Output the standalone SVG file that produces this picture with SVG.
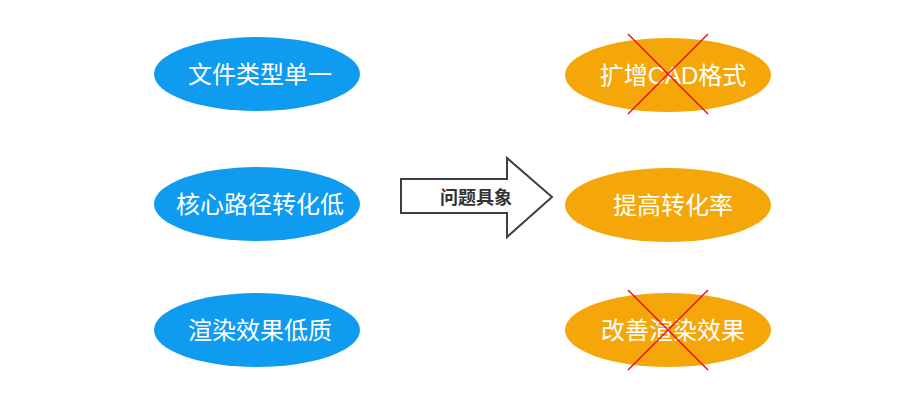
<svg xmlns="http://www.w3.org/2000/svg" width="900" height="403" viewBox="0 0 900 403">
<style>
.b{fill:#0f9bf0}.o{fill:#f5a70a}
.t{font-family:"Liberation Sans","Noto Sans CJK SC",sans-serif;font-size:24px;fill:#fff;text-anchor:middle}
.x{stroke:#e8141e;stroke-width:1.5}
</style>
<rect width="900" height="403" fill="#fff"/>
<g id="n1"><ellipse class="b" cx="257" cy="74" rx="103" ry="37"/><text class="t" x="260" y="83">文件类型单一</text></g>
<g id="n2"><ellipse class="b" cx="257" cy="204" rx="103" ry="37"/><text class="t" x="260" y="213">核心路径转化低</text></g>
<g id="n3"><ellipse class="b" cx="257" cy="330" rx="103" ry="37"/><text class="t" x="260" y="339">渲染效果低质</text></g>
<g id="n4"><ellipse class="o" cx="668" cy="75" rx="103" ry="37"/><text class="t" x="673" y="84">扩增CAD格式</text><path class="x" d="M628 34L708 114M708 34L628 114"/></g>
<g id="n5"><ellipse class="o" cx="668" cy="205" rx="103" ry="37"/><text class="t" x="673" y="214">提高转化率</text></g>
<g id="n6"><ellipse class="o" cx="668" cy="330" rx="103" ry="37"/><text class="t" x="673" y="339">改善渲染效果</text><path class="x" d="M628 290L708 370M708 290L628 370"/></g>
<g id="connectors"><path d="M401 179H507V158L552 197L507 237V213H401Z" fill="#fff" stroke="#404040" stroke-width="2"/>
<text x="476" y="204" font-family="'Liberation Sans','Noto Sans CJK SC',sans-serif" font-size="18" font-weight="bold" fill="#333" text-anchor="middle">问题具象</text></g>
</svg>
